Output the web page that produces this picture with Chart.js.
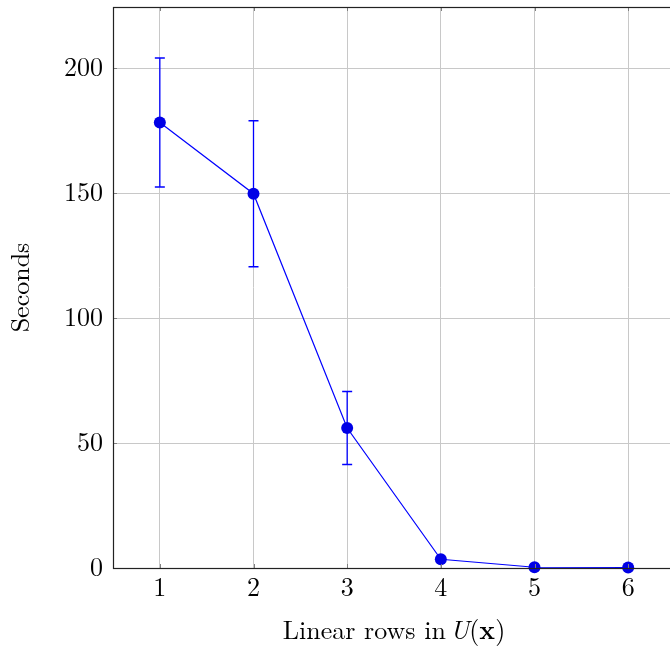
<!DOCTYPE html>
<html>
<head>
<meta charset="utf-8">
<script src="https://cdn.jsdelivr.net/npm/chart.js@4/dist/chart.umd.min.js"></script>
<style>
  html, body { margin: 0; padding: 0; background: #fff; overflow: hidden; }
  #wrap { width: 681px; height: 646px; }
</style>
</head>
<body>
<div id="wrap"><canvas id="timingChart" width="681" height="646"></canvas></div>
<script>
const rows = [1, 2, 3, 4, 5, 6];
const seconds = [178.2, 149.7, 56, 3.5, 0.3, 0.2];
const errors = [25.8, 29.2, 14.6, 0, 0, 0];
const yTicks = [0, 50, 100, 150, 200];

const FONT = '"Latin Modern Roman", "CMU Serif", "Liberation Serif", "DejaVu Serif", serif';
const blue = '#0000ff';

// pgfplots-ish frame, inner ticks, error bars and the mixed-style x title
const decor = {
  id: 'decor',
  beforeDatasetsDraw(chart) {
    const { ctx, scales: { x, y } } = chart;
    ctx.save();
    ctx.strokeStyle = blue;
    ctx.lineWidth = 1.3;
    errors.forEach((e, i) => {
      if (!e) return;
      const px = x.getPixelForValue(rows[i]);
      const top = y.getPixelForValue(seconds[i] + e);
      const bot = y.getPixelForValue(seconds[i] - e);
      ctx.beginPath();
      ctx.moveTo(px, top); ctx.lineTo(px, bot);
      ctx.moveTo(px - 5, top); ctx.lineTo(px + 5, top);
      ctx.moveTo(px - 5, bot); ctx.lineTo(px + 5, bot);
      ctx.stroke();
    });
    ctx.restore();
  },
  afterDraw(chart) {
    const { ctx, chartArea: a, scales: { x, y } } = chart;
    ctx.save();
    // inner ticks
    ctx.strokeStyle = '#808080';
    ctx.lineWidth = 1;
    ctx.beginPath();
    rows.forEach(r => {
      const px = Math.round(x.getPixelForValue(r)) + 0.5;
      ctx.moveTo(px, a.bottom); ctx.lineTo(px, a.bottom - 4);
      ctx.moveTo(px, a.top); ctx.lineTo(px, a.top + 4);
    });
    yTicks.forEach(v => {
      const py = Math.round(y.getPixelForValue(v)) + 0.5;
      ctx.moveTo(a.left, py); ctx.lineTo(a.left + 4, py);
      ctx.moveTo(a.right, py); ctx.lineTo(a.right - 4, py);
    });
    ctx.stroke();
    // frame
    ctx.strokeStyle = '#222';
    ctx.lineWidth = 1.2;
    ctx.strokeRect(a.left + 0.5, a.top + 0.5, a.right - a.left - 1, a.bottom - a.top);

    // x title: "Linear rows in U(x)" with italic U and bold x
    const parts = [
      ['Linear rows in', '26px ' + FONT, 4],
      ['U', 'italic 26px ' + FONT, 0],
      ['(', '26px ' + FONT, 0],
      ['x', 'bold 26px ' + FONT, 0],
      [')', '26px ' + FONT, 0],
    ];
    let total = 0;
    parts.forEach(p => { ctx.font = p[1]; total += ctx.measureText(p[0]).width + p[2]; });
    let cx = (a.left + a.right) / 2 - total / 2;
    ctx.fillStyle = '#000';
    ctx.textBaseline = 'middle';
    ctx.textAlign = 'left';
    parts.forEach(p => {
      ctx.font = p[1];
      ctx.fillText(p[0], cx, 631);
      cx += ctx.measureText(p[0]).width + p[2];
    });
    ctx.restore();
  }
};

new Chart(document.getElementById('timingChart').getContext('2d'), {
  type: 'line',
  data: {
    datasets: [{
      data: rows.map((r, i) => ({ x: r, y: seconds[i] })),
      borderColor: blue,
      backgroundColor: '#0000e6',
      borderWidth: 1.2,
      pointRadius: 6,
      pointBorderWidth: 0,
      pointBackgroundColor: '#0000e6',
      tension: 0,
      clip: false,
    }],
  },
  options: {
    responsive: false,
    animation: false,
    events: [],
    layout: { padding: { top: 7, right: 0, left: 0, bottom: 0 } },
    plugins: { legend: { display: false }, tooltip: { enabled: false } },
    scales: {
      x: {
        type: 'linear',
        min: 0.5,
        max: 6.5,
        afterBuildTicks: s => { s.ticks = rows.map(v => ({ value: v })); },
        afterFit: s => { s.height = 78; },
        border: { display: false },
        grid: { color: '#c8c8c8', lineWidth: 1, drawTicks: false },
        ticks: { color: '#000', padding: 4, font: { family: FONT, size: 26 } },
      },
      y: {
        min: 0,
        max: 224.4,
        afterBuildTicks: s => { s.ticks = yTicks.map(v => ({ value: v })); },
        afterFit: s => { s.width = 113; s.paddingTop = 0; s.paddingBottom = 0; },
        border: { display: false },
        grid: { color: '#c8c8c8', lineWidth: 1, drawTicks: false },
        ticks: { color: '#000', padding: 10, font: { family: FONT, size: 26 } },
        title: {
          display: true,
          text: 'Seconds',
          color: '#000',
          padding: { top: 5, bottom: 0 },
          font: { family: FONT, size: 26 },
        },
      },
    },
  },
  plugins: [decor],
});
</script>
</body>
</html>
